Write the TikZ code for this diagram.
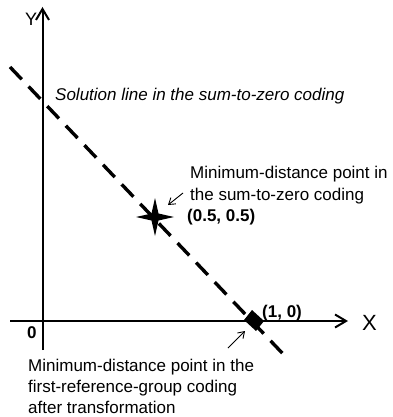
\documentclass[tikz,border=0pt]{standalone}
\usepackage{fontspec}
\setmainfont{Liberation Sans}
\usetikzlibrary{arrows.meta,calc}
\begin{document}
\begin{tikzpicture}[x=1pt,y=-1pt,
  txt/.style={anchor=base west,inner sep=0pt,font=\fontsize{17}{22}\selectfont,text=black},
  boldtxt/.style={txt,font=\fontsize{17}{22}\selectfont\bfseries},
  axis/.style={line width=2pt,-{Straight Barb[length=11pt,width=13pt,line width=2pt]}},
  pointer/.style={line width=0.9pt,-{Straight Barb[length=6pt,width=8pt,line width=0.9pt]}},
  solline/.style={line width=3.4pt,dash pattern=on 17pt off 10pt}]
\useasboundingbox (0,0) rectangle (392,417);
% axes
\coordinate (xs) at (10,321);
\coordinate (xe) at (348,321);
\coordinate (ys) at (42.5,350);
\coordinate (ye) at (42.5,7);
\draw[axis] (xs) -- (xe);
\draw[axis] (ys) -- (ye);
\node[anchor=base west,inner sep=0pt,font=\fontsize{22}{22}\selectfont,text=black] (xl) at (362,330) {X};
\node[anchor=base west,inner sep=0pt,font=\fontsize{18}{18}\selectfont,text=black] (yl) at (25,26) {Y};
\node[boldtxt] (zero) at (27,338) {0};
% solution line
\coordinate (ls) at (10,67);
\coordinate (le) at (285,356);
\draw[solline] (ls) -- (le);
% star
\coordinate (star) at (155,217);
\fill ($(star)+(-19,0)$) -- ($(star)+(-3.5,-3.5)$) -- ($(star)+(0,-19)$) -- ($(star)+(3.5,-3.5)$)
  -- ($(star)+(19,0)$) -- ($(star)+(3.5,3.5)$) -- ($(star)+(0,19)$) -- ($(star)+(-3.5,3.5)$) -- cycle;
% diamond
\fill (252,310) -- (264,321) -- (256,331) -- (244,320) -- cycle;
% texts
\node[txt,font=\fontsize{17}{22}\selectfont\itshape] (sol) at (55,101) {Solution line in the sum-to-zero coding};
\node[txt] (m1) at (190,178) {Minimum-distance point in};
\node[txt] (m2) at (190,200) {the sum-to-zero coding};
\node[boldtxt] (p1) at (187,221) {(0.5, 0.5)};
\node[boldtxt] (p2) at (262,317) {(1, 0)};
\node[txt] (b1) at (28,371) {Minimum-distance point in the};
\node[txt] (b2) at (28,392) {first-reference-group coding};
\node[txt] (b3) at (28,413) {after transformation};
% pointers
\coordinate (a1s) at (183,193);
\coordinate (a1e) at (168,205);
\draw[pointer] (a1s) -- (a1e);
\coordinate (a2s) at (228,348);
\coordinate (a2e) at (245,331);
\draw[pointer] (a2s) -- (a2e);
\end{tikzpicture}
\end{document}
